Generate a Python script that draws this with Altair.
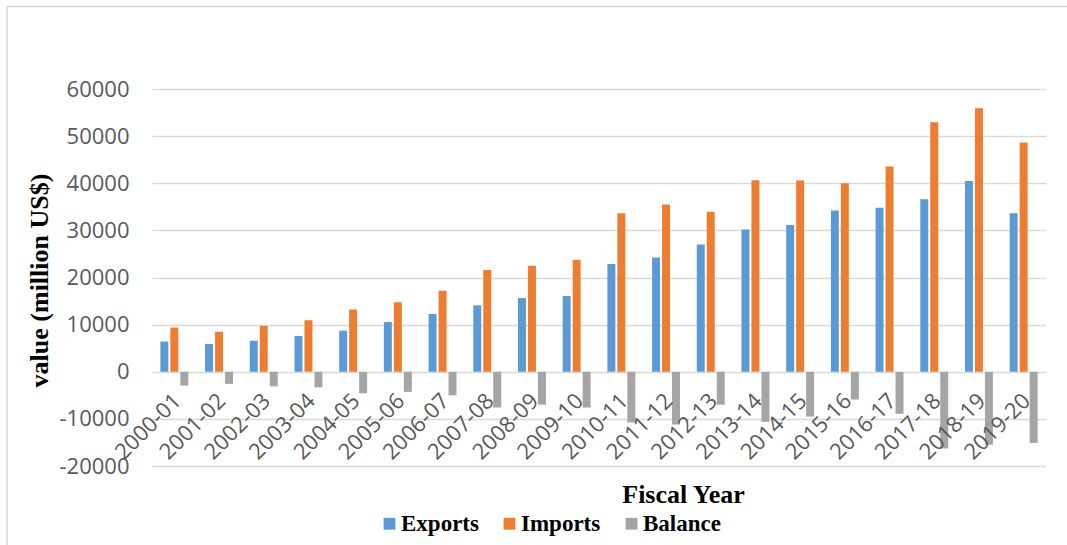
import altair as alt
import pandas as pd

years = ["2000-01", "2001-02", "2002-03", "2003-04", "2004-05", "2005-06", "2006-07",
         "2007-08", "2008-09", "2009-10", "2010-11", "2011-12", "2012-13", "2013-14",
         "2014-15", "2015-16", "2016-17", "2017-18", "2018-19", "2019-20"]
exports = [6400, 5900, 6570, 7600, 8710, 10550, 12250, 14090, 15640, 16080,
           22880, 24270, 26990, 30180, 31130, 34230, 34820, 36590, 40490, 33630]
imports = [9380, 8490, 9730, 10930, 13200, 14750, 17190, 21610, 22500, 23760,
           33630, 35490, 33940, 40640, 40570, 39980, 43580, 52960, 55910, 48670]
balance = [-2940, -2570, -3100, -3320, -4560, -4270, -5010, -7590, -6990, -7590,
           -10750, -11190, -6990, -10620, -9510, -5890, -8920, -16280, -15490, -15110]
series_names = ["Exports", "Imports", "Balance"]
colors = ["#5B9BD5", "#ED7D31", "#A5A5A5"]
y_ticks = [-20000, -10000, 0, 10000, 20000, 30000, 40000, 50000, 60000]

rows = []
for i, yr in enumerate(years):
    for name, vals in zip(series_names, [exports, imports, balance]):
        rows.append({"year": yr, "series": name, "value": vals[i]})
df = pd.DataFrame(rows)

W, H = 894, 377

bars = alt.Chart(df).mark_bar().encode(
    x=alt.X("year:N", sort=years,
            scale=alt.Scale(paddingInner=0.33, paddingOuter=0.165),
            axis=alt.Axis(title="Fiscal Year", labelAngle=-45, labelAlign="right",
                          labelBaseline="middle", labelPadding=25, labelOffset=3,
                          ticks=False, domain=False, offset=-94,
                          labelFont="Open Sans", labelFontSize=22, labelColor="#595959",
                          labelOverlap=False, labelBound=False,
                          titleFont="Liberation Serif", titleFontSize=26,
                          titleFontWeight="bold", titleColor="#000000",
                          titleX=531, titleY=130, titleBaseline="alphabetic",
                          titleAlign="center", zindex=1)),
    xOffset=alt.XOffset("series:N", sort=series_names,
                        scale=alt.Scale(paddingInner=0.2, paddingOuter=0.1)),
    y=alt.Y("value:Q", scale=alt.Scale(domain=[-20000, 60000], nice=False),
            axis=alt.Axis(values=y_ticks, title="value (million US$)",
                          labelExpr="'' + datum.value",
                          grid=True, gridColor="#d9d9d9", gridWidth=1.5,
                          domain=False, ticks=False, labelPadding=23,
                          labelFont="Open Sans", labelFontSize=22, labelColor="#595959",
                          titleFont="Liberation Serif", titleFontSize=26,
                          titleFontWeight="bold", titleColor="#000000",
                          titleX=-113, titleY=191, titleAngle=-90,
                          titleBaseline="middle", titleAlign="center")),
    color=alt.Color("series:N", sort=series_names,
                    scale=alt.Scale(domain=series_names, range=colors),
                    legend=alt.Legend(title=None, orient="none", legendX=226, legendY=423,
                                      direction="horizontal", symbolType="square",
                                      symbolSize=140, symbolStrokeWidth=0,
                                      labelFont="Liberation Serif", labelFontSize=23,
                                      labelFontWeight="bold", labelColor="#000000",
                                      columnPadding=19, labelOffset=0, padding=0)),
)

frame_df = pd.DataFrame({"k": [0]})
top_line = alt.Chart(frame_df).mark_rule(color="#d9d9d9", strokeWidth=1.5).encode(
    x=alt.value(-145), x2=alt.value(915), y=alt.value(-82.5))
left_line = alt.Chart(frame_df).mark_rule(color="#d9d9d9", strokeWidth=1.5).encode(
    x=alt.value(-145), y=alt.value(-83), y2=alt.value(456))

chart = alt.layer(top_line, left_line, bars).properties(
    width=W, height=H,
    autosize=alt.AutoSizeParams(type="none"),
    padding={"left": 152, "top": 89, "right": 21, "bottom": 79},
    background="white",
).configure_view(strokeWidth=0)

chart.save("out.html", embed_options={"renderer": "svg", "actions": False})
